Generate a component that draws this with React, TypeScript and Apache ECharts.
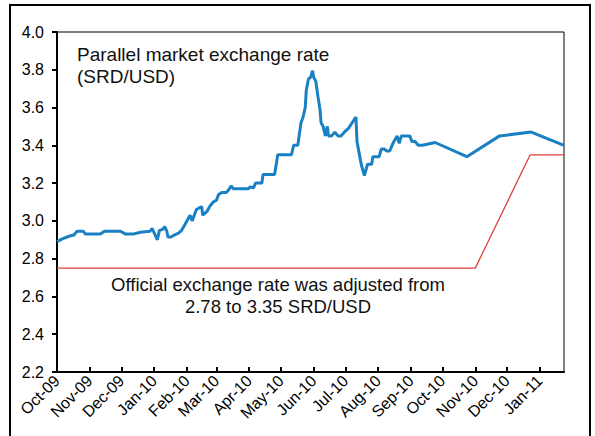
import React, { useEffect, useRef } from "react";
import * as echarts from "echarts";

// ---- Data ----
const startDate = "2009-10-01";
const endDate = "2011-01-24";

const monthTickDates = [
  "2009-10-01", "2009-11-01", "2009-12-01", "2010-01-01", "2010-02-01", "2010-03-01",
  "2010-04-01", "2010-05-01", "2010-06-01", "2010-07-01", "2010-08-01", "2010-09-01",
  "2010-10-01", "2010-11-01", "2010-12-01", "2011-01-01",
];
const monthTickLabels = [
  "Oct-09", "Nov-09", "Dec-09", "Jan-10", "Feb-10", "Mar-10",
  "Apr-10", "May-10", "Jun-10", "Jul-10", "Aug-10", "Sep-10",
  "Oct-10", "Nov-10", "Dec-10", "Jan-11",
];

const parallelDates = [
  "2009-10-01", "2009-10-06", "2009-10-13", "2009-10-17", "2009-10-20", "2009-10-26", "2009-10-28",
  "2009-11-11", "2009-11-15", "2009-11-30",
  "2009-12-05", "2009-12-12", "2009-12-19", "2009-12-28", "2009-12-30",
  "2010-01-02", "2010-01-04", "2010-01-06", "2010-01-09", "2010-01-11", "2010-01-13", "2010-01-14", "2010-01-17", "2010-01-20", "2010-01-24", "2010-01-27", "2010-01-30",
  "2010-02-02", "2010-02-04", "2010-02-06", "2010-02-10", "2010-02-13", "2010-02-15", "2010-02-16", "2010-02-20", "2010-02-23", "2010-02-26",
  "2010-03-01", "2010-03-03", "2010-03-06", "2010-03-10", "2010-03-12", "2010-03-15", "2010-03-17", "2010-03-31",
  "2010-04-02", "2010-04-05", "2010-04-07", "2010-04-13", "2010-04-14", "2010-04-25", "2010-04-28",
  "2010-05-11", "2010-05-13", "2010-05-17", "2010-05-18", "2010-05-20", "2010-05-22", "2010-05-24", "2010-05-25", "2010-05-27", "2010-05-29", "2010-05-31",
  "2010-06-01", "2010-06-03", "2010-06-05", "2010-06-07", "2010-06-08", "2010-06-10", "2010-06-12", "2010-06-14", "2010-06-15", "2010-06-18", "2010-06-21", "2010-06-24", "2010-06-27", "2010-06-30",
  "2010-07-04", "2010-07-08", "2010-07-11", "2010-07-12", "2010-07-14", "2010-07-16", "2010-07-19", "2010-07-21", "2010-07-22", "2010-07-26", "2010-07-27",
  "2010-08-02", "2010-08-04", "2010-08-07", "2010-08-09", "2010-08-12", "2010-08-15", "2010-08-19", "2010-08-21", "2010-08-23", "2010-08-31",
  "2010-09-02", "2010-09-05", "2010-09-08", "2010-09-12", "2010-09-24",
  "2010-10-24", "2010-11-24", "2010-12-24", "2011-01-24",
];
const parallelRates = [
  2.89, 2.905, 2.92, 2.925, 2.945, 2.945, 2.93,
  2.93, 2.945, 2.945,
  2.93, 2.93, 2.94, 2.945, 2.96,
  2.925, 2.9, 2.95, 2.955, 2.97, 2.945, 2.915, 2.915, 2.925, 2.935, 2.95, 2.98,
  3.01, 3.03, 3.0, 3.06, 3.07, 3.075, 3.03, 3.05, 3.08, 3.1,
  3.11, 3.14, 3.15, 3.15, 3.16, 3.185, 3.17, 3.17,
  3.18, 3.175, 3.2, 3.2, 3.245, 3.245, 3.35,
  3.35, 3.4, 3.4, 3.44, 3.52, 3.55, 3.6, 3.69, 3.75, 3.76, 3.795,
  3.76, 3.74, 3.66, 3.59, 3.52, 3.5, 3.45, 3.5, 3.45, 3.45, 3.47, 3.45, 3.45, 3.47,
  3.49, 3.525, 3.55, 3.42, 3.36, 3.3, 3.24, 3.28, 3.3, 3.3, 3.34,
  3.34, 3.38, 3.38, 3.37, 3.37, 3.41, 3.45, 3.41, 3.45, 3.45,
  3.42, 3.42, 3.4, 3.4, 3.415,
  3.34, 3.45, 3.47, 3.4,
];

const officialDates = ["2009-10-01", "2010-11-01", "2010-12-23", "2011-01-24"];
const officialRates = [2.75, 2.75, 3.35, 3.35];

const yMin = 2.2;
const yMax = 4.0;
const yStep = 0.2;

const parallelNote = "Parallel market exchange rate\n(SRD/USD)";
const officialNote = "Official exchange rate was adjusted from\n2.78 to 3.35 SRD/USD";

// ---- Helpers ----
function buildDays(from: string, to: string): string[] {
  const out: string[] = [];
  const [fy, fm, fd] = from.split("-").map(Number);
  const [ty, tm, td] = to.split("-").map(Number);
  let t = Date.UTC(fy, fm - 1, fd);
  const end = Date.UTC(ty, tm - 1, td);
  while (t <= end) {
    out.push(new Date(t).toISOString().slice(0, 10));
    t += 86400000;
  }
  return out;
}

const FONT = "'Liberation Sans', Arial, sans-serif";

export default function App() {
  const ref = useRef<HTMLDivElement>(null);

  useEffect(() => {
    if (!ref.current) return;
    const chart = echarts.init(ref.current, null, { renderer: "svg" });
    const days = buildDays(startDate, endDate);
    const idx: Record<string, number> = {};
    days.forEach((d, i) => (idx[d] = i));
    const isTick = (_i: number, v: string) => monthTickDates.indexOf(v) >= 0;

    chart.setOption({
      animation: false,
      backgroundColor: "#ffffff",
      grid: {
        left: 57,
        top: 32,
        right: 31,
        bottom: 64,
        show: true,
        borderColor: "#000",
        borderWidth: 1,
        containLabel: false,
      },
      xAxis: {
        type: "category",
        data: days,
        boundaryGap: false,
        axisLine: { show: true, onZero: false, lineStyle: { color: "#000", width: 2 } },
        axisTick: {
          show: true,
          inside: true,
          length: 5,
          interval: isTick,
          lineStyle: { color: "#000", width: 2 },
        },
        axisLabel: {
          interval: isTick,
          rotate: 45,
          margin: 6,
          color: "#000",
          fontSize: 16,
          fontFamily: FONT,
          formatter: (v: string) => {
            const k = monthTickDates.indexOf(v);
            return k >= 0 ? monthTickLabels[k] : "";
          },
        },
        splitLine: { show: false },
      },
      yAxis: {
        type: "value",
        min: yMin,
        max: yMax,
        interval: yStep,
        axisLine: { show: true, lineStyle: { color: "#000", width: 2 } },
        axisTick: { show: true, inside: false, length: 5, lineStyle: { color: "#000", width: 2 } },
        axisLabel: {
          margin: 13,
          color: "#000",
          fontSize: 16,
          fontFamily: FONT,
          formatter: (v: number) => v.toFixed(1),
        },
        splitLine: { show: false },
      },
      series: [
        {
          type: "line",
          name: "Official",
          data: officialDates.map((d, i) => [idx[d], officialRates[i]]),
          showSymbol: false,
          symbol: "none",
          lineStyle: { color: "#E0403A", width: 1.3 },
          z: 2,
        },
        {
          type: "line",
          name: "Parallel",
          data: parallelDates.map((d, i) => [idx[d], parallelRates[i]]),
          showSymbol: false,
          symbol: "none",
          lineStyle: { color: "#1A80C4", width: 3 },
          z: 3,
        },
      ],
      graphic: [
        {
          type: "rect",
          shape: { x: 10, y: 5, width: 580, height: 445 },
          style: { fill: "none", stroke: "#000", lineWidth: 2 },
          silent: true,
        },
        {
          type: "text",
          x: 77,
          y: 43,
          style: {
            text: parallelNote,
            font: `19px ${FONT}`,
            fill: "#111",
            lineHeight: 22,
            textAlign: "left",
            textVerticalAlign: "top",
          },
        },
        {
          type: "text",
          x: 278,
          y: 273,
          style: {
            text: officialNote,
            font: `18.5px ${FONT}`,
            fill: "#111",
            lineHeight: 22,
            textAlign: "center",
            textVerticalAlign: "top",
          },
        },
      ],
    });
    return () => chart.dispose();
  }, []);

  return (
    <div
      ref={ref}
      style={{ position: "fixed", left: 0, top: 0, width: 595, height: 436 }}
    />
  );
}
